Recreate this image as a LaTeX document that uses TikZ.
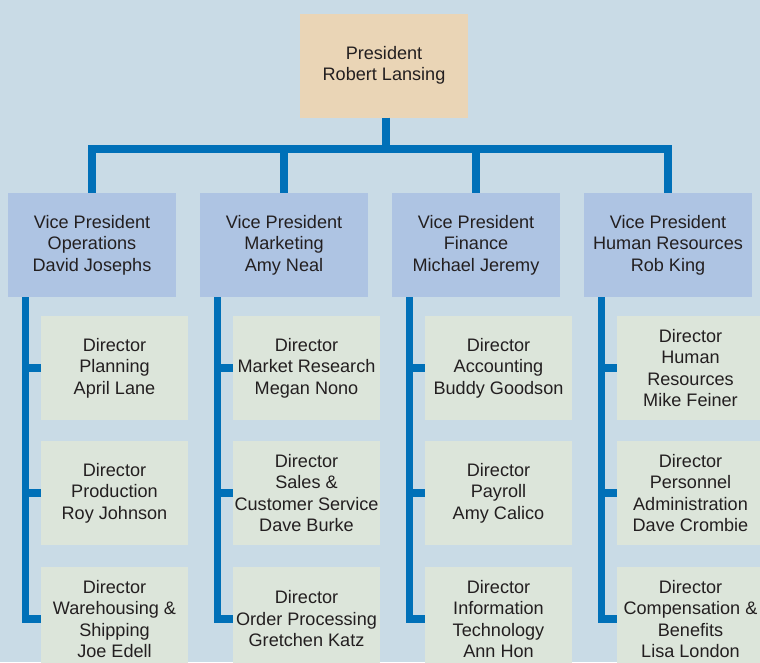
\documentclass[tikz,border=0pt]{standalone}
\usepackage{fontspec}
\setmainfont{Liberation Sans}
\definecolor{bgblue}{RGB}{201,219,230}
\definecolor{presfill}{RGB}{234,213,182}
\definecolor{vpfill}{RGB}{174,196,227}
\definecolor{dirfill}{RGB}{220,229,218}
\definecolor{linkblue}{RGB}{0,112,184}
\definecolor{inkgray}{RGB}{35,31,32}
\tikzset{
  box/.style={inner sep=0pt, align=center, text=inkgray,
    font=\fontsize{18.1}{21.5}\selectfont},
  presbox/.style={box, fill=presfill, minimum width=168pt, minimum height=104pt},
  vpbox/.style={box, fill=vpfill, minimum width=168pt, minimum height=104pt},
  dirbox/.style={box, fill=dirfill, minimum width=147pt, minimum height=104pt},
  conn/.style={draw=linkblue, line width=7.6pt, line join=miter}
}
\begin{document}
\begin{tikzpicture}[x=1pt,y=-1pt]
\useasboundingbox (0,0) rectangle (760,662);
\clip (0,0) rectangle (760,662);
\fill[bgblue] (0,0) rectangle (760,662);

% president
\node[presbox] (pres) at (384,65.5) {President\\Robert Lansing};

% vice presidents
\node[vpbox] (v1) at (92,245)  {Vice President\\Operations\\David Josephs};
\node[vpbox] (v2) at (284,245) {Vice President\\Marketing\\Amy Neal};
\node[vpbox] (v3) at (476,245) {Vice President\\Finance\\Michael Jeremy};
\node[vpbox] (v4) at (668,245) {Vice President\\Human Resources\\Rob King};

% directors, operations
\node[dirbox] (d11) at (114.5,368) {Director\\Planning\\April Lane};
\node[dirbox] (d12) at (114.5,493) {Director\\Production\\Roy Johnson};
\node[dirbox] (d13) at (114.5,619) {Director\\Warehousing \&\\Shipping\\Joe Edell};
% directors, marketing
\node[dirbox] (d21) at (306.5,368) {Director\\Market Research\\Megan Nono};
\node[dirbox] (d22) at (306.5,493) {Director\\Sales \&\\Customer Service\\Dave Burke};
\node[dirbox] (d23) at (306.5,619) {Director\\Order Processing\\Gretchen Katz};
% directors, finance
\node[dirbox] (d31) at (498.5,368) {Director\\Accounting\\Buddy Goodson};
\node[dirbox] (d32) at (498.5,493) {Director\\Payroll\\Amy Calico};
\node[dirbox] (d33) at (498.5,619) {Director\\Information\\Technology\\Ann Hon};
% directors, human resources
\node[dirbox] (d41) at (690.5,368) {Director\\Human\\Resources\\Mike Feiner};
\node[dirbox] (d42) at (690.5,493) {Director\\Personnel\\Administration\\Dave Crombie};
\node[dirbox] (d43) at (690.5,619) {Director\\Compensation \&\\Benefits\\Lisa London};

% top tier connectors
\coordinate (bar) at (0,149);
\draw[conn] ([xshift=2pt]pres.south) -- ([xshift=2pt]pres.south |- bar);
\draw[conn] (v1.north) -- (v1.north |- bar) -- (v4.north |- bar) -- (v4.north);
\draw[conn] (v2.north) -- (v2.north |- bar);
\draw[conn] (v3.north) -- (v3.north |- bar);

% column trunks and stubs
\foreach \c in {1,2,3,4}{
  \coordinate (t\c) at ([xshift=17.7pt]v\c.south west);
  \draw[conn] (t\c) |- (d\c3.west);
  \draw[conn] (t\c |- d\c1.west) -- (d\c1.west);
  \draw[conn] (t\c |- d\c2.west) -- (d\c2.west);
}
\end{tikzpicture}
\end{document}
